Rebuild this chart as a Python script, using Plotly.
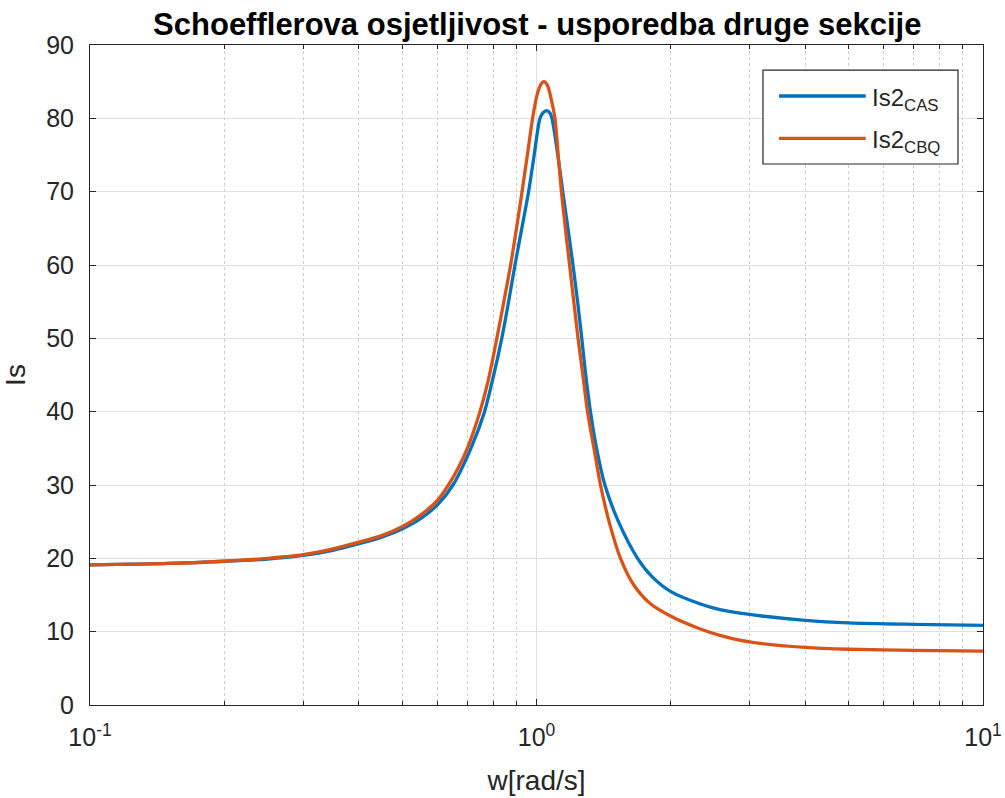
import plotly.graph_objects as go

# ---- data ----
series_names = ["Is2<sub>CAS</sub>", "Is2<sub>CBQ</sub>"]
series_colors = ["#0072BD", "#D95319"]

w_cas = [0.1, 0.15, 0.2, 0.25, 0.3, 0.35, 0.4, 0.45, 0.5, 0.55, 0.6, 0.65, 0.713, 0.765, 0.802,
         0.836, 0.866, 0.895, 0.927, 0.960, 0.988, 1.004, 1.018, 1.034, 1.054, 1.071, 1.083,
         1.116, 1.145, 1.176, 1.207, 1.236, 1.263, 1.289, 1.321, 1.363, 1.423, 1.526, 1.684,
         1.814, 2.0, 2.32, 2.576, 3.0, 4.0, 5.0, 7.0, 10.0]
is_cas = [19.1, 19.3, 19.6, 19.9, 20.4, 21.1, 22.0, 22.9, 24.0, 25.4, 27.3, 30.0, 35.0, 40.0, 45.0,
          50.0, 55.0, 60.0, 65.0, 70.0, 75.0, 78.0, 80.0, 80.75, 81.05, 80.75, 80.0,
          75.0, 70.0, 65.0, 60.0, 55.0, 50.0, 45.0, 40.0, 35.0, 30.0, 25.0, 20.0,
          17.5, 15.45, 13.8, 13.0, 12.35, 11.55, 11.2, 11.0, 10.87]

w_cbq = [0.1, 0.15, 0.2, 0.25, 0.3, 0.35, 0.4, 0.45, 0.5, 0.55, 0.6, 0.635, 0.67, 0.7, 0.747, 0.78,
         0.815, 0.845, 0.875, 0.902, 0.928, 0.954, 0.980, 1.001, 1.020, 1.039, 1.058, 1.079,
         1.100, 1.118, 1.137, 1.160, 1.186, 1.211, 1.239, 1.270, 1.301, 1.345, 1.391, 1.460,
         1.542, 1.65, 1.8, 2.0, 2.32, 2.576, 3.0, 4.0, 5.0, 7.0, 10.0]
is_cbq = [19.1, 19.3, 19.6, 20.0, 20.5, 21.3, 22.2, 23.1, 24.3, 25.9, 27.9, 30.0, 32.5, 35.0, 40.0, 44.3,
          50.0, 55.0, 60.0, 65.0, 70.0, 75.0, 80.0, 83.0, 84.5, 85.0, 84.5, 82.6,
          80.0, 75.1, 70.0, 65.1, 60.0, 55.2, 50.0, 45.0, 40.0, 35.0, 30.0, 24.6,
          20.0, 16.4, 13.8, 12.1, 10.4, 9.5, 8.6, 7.85, 7.6, 7.45, 7.36]

x_tick_vals = [0.1, 1, 10]
x_tick_text = ["10<sup>-1</sup>", "10<sup>0</sup>", "10<sup>1</sup>"]
x_minor_vals = [0.2, 0.3, 0.4, 0.5, 0.6, 0.7, 0.8, 0.9, 2, 3, 4, 5, 6, 7, 8, 9]
y_tick_vals = [0, 10, 20, 30, 40, 50, 60, 70, 80, 90]

title_text = "Schoefflerova osjetljivost - usporedba druge sekcije"
x_title = "w[rad/s]"
y_title = "Is"

FONT = "Liberation Sans, Arial, sans-serif"
TXT = "#262626"
GRID = "#dfdfdf"

fig = go.Figure()
for w, v, name, col in [(w_cas, is_cas, series_names[0], series_colors[0]),
                        (w_cbq, is_cbq, series_names[1], series_colors[1])]:
    fig.add_trace(go.Scatter(x=w, y=v, mode="lines", name=name,
                             line=dict(color=col, width=3.3, shape="spline", smoothing=0.8),
                             showlegend=False, hoverinfo="skip"))

axis_common = dict(showline=True, linecolor=TXT, linewidth=1, mirror="allticks",
                   ticks="inside", tickcolor=TXT, ticklen=6, tickwidth=1,
                   tickfont=dict(family=FONT, size=25, color=TXT),
                   showgrid=True, gridcolor=GRID, gridwidth=1, zeroline=False,
                   automargin=False, ticklabeloverflow="allow")

fig.update_xaxes(type="log", range=[-1, 1], tickmode="array", tickvals=x_tick_vals,
                 ticktext=x_tick_text, ticklabelstandoff=10,
                 title=dict(text=x_title, font=dict(family=FONT, size=28, color=TXT), standoff=20),
                 minor=dict(tickmode="array", tickvals=x_minor_vals, ticks="inside", ticklen=4,
                            tickcolor=TXT, showgrid=True, gridcolor="#cccccc", griddash="dot",
                            gridwidth=1),
                 **axis_common)
fig.update_yaxes(range=[0, 90], tickmode="array", tickvals=y_tick_vals, ticklabelstandoff=10,
                 title=dict(text=y_title, font=dict(family=FONT, size=28, color=TXT), standoff=14),
                 **axis_common)

# custom MATLAB-style legend
lx0, lx1, ly0, ly1 = 0.7536, 0.972, 0.8197, 0.962
shapes = [dict(type="rect", xref="paper", yref="paper", x0=lx0, x1=lx1, y0=ly0, y1=ly1,
               line=dict(color=TXT, width=1.2), fillcolor="white", layer="above")]
annotations = []
for i, (name, col) in enumerate(zip(series_names, series_colors)):
    yy = 0.9227 - i * 0.0641
    shapes.append(dict(type="line", xref="paper", yref="paper", x0=0.7716, x1=0.8687, y0=yy, y1=yy,
                       line=dict(color=col, width=3.3), layer="above"))
    annotations.append(dict(xref="paper", yref="paper", x=0.8740, y=yy, xanchor="left",
                            yanchor="middle", yshift=-3, text=name, showarrow=False,
                            font=dict(family=FONT, size=24, color=TXT)))

fig.update_layout(
    width=1005, height=798,
    margin=dict(l=90, r=22, t=45, b=93),
    paper_bgcolor="white", plot_bgcolor="white",
    title=dict(text="<b>" + title_text + "</b>", x=0.5346, xanchor="center",
               y=0.970, yanchor="middle", font=dict(family=FONT, size=31, color="#000000")),
    shapes=shapes, annotations=annotations, showlegend=False,
)

# remove the default 8px page margin so the figure fills the 1005x798 window exactly
fig.write_html("out.html", config={"displayModeBar": False},
               post_script="document.body.style.margin='0';"
                           "document.body.style.overflow='hidden';")
